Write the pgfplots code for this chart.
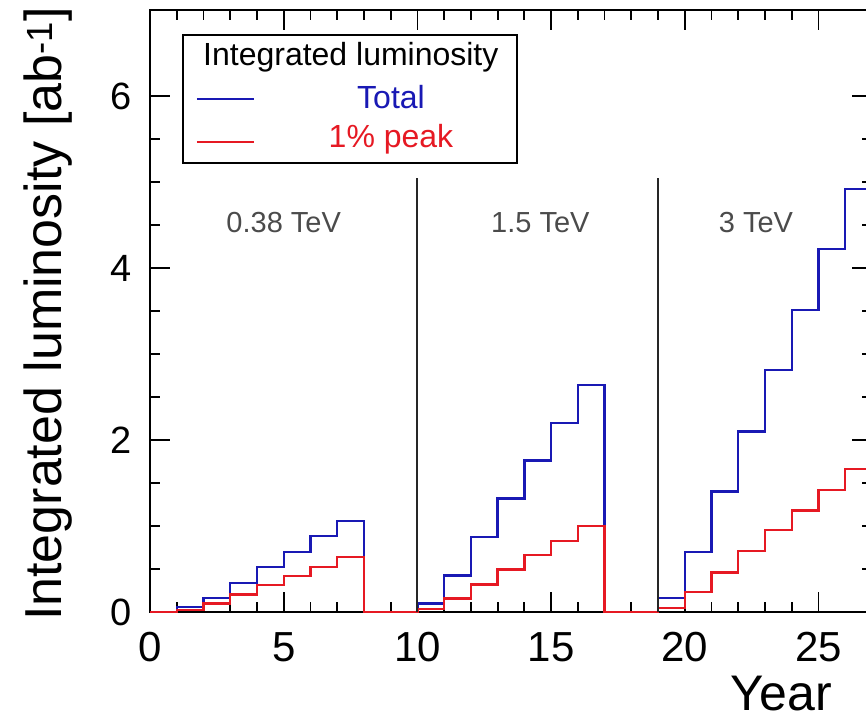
\documentclass[border=0pt]{standalone}
\usepackage{fontspec}
\setmainfont{Liberation Sans}
\usepackage{pgfplots}
\pgfplotsset{compat=1.18}
\usepackage{xcolor}

\definecolor{totblue}{RGB}{25,25,180}
\definecolor{peakred}{RGB}{230,25,35}
\definecolor{txtgray}{RGB}{75,75,75}

\begin{document}
\begin{tikzpicture}
\begin{axis}[
    name=ax,
    scale only axis,
    width=722pt, height=602pt,
    xmin=0, xmax=27, ymin=0, ymax=7,
    xtick={0,5,10,15,20,25},
    ytick={0,2,4,6},
    minor x tick num=4,
    minor y tick num=3,
    major tick length=20pt,
    minor tick length=10pt,
    tick style={black, line width=1.8pt},
    axis line style={line width=2.2pt},
    /pgf/number format/assume math mode=true,
    xticklabel style={font=\fontsize{42}{48}\selectfont, anchor=north, inner sep=0pt, yshift=-20pt},
    yticklabel style={font=\fontsize{38}{44}\selectfont, anchor=east, inner sep=0pt, xshift=-18pt},
    xlabel={Year},
    ylabel={Integrated luminosity [ab\textsuperscript{-1}]},
    xlabel style={font=\fontsize{50}{58}\selectfont, at={(axis description cs:0.9446,0)}, anchor=north east, inner sep=0pt, yshift=-64pt},
    ylabel style={font=\fontsize{52}{60}\selectfont, at={(axis description cs:-0.1219,0.495)}, anchor=base, inner sep=0pt},
    const plot,
]
% Total
\addplot[totblue, line width=2.3pt, line join=miter] coordinates {
    (0,0) (1,0.055) (2,0.166) (3,0.34) (4,0.527) (5,0.70) (6,0.88) (7,1.06)
    (8,0) (9,0)
    (10,0.10) (11,0.425) (12,0.87) (13,1.32) (14,1.76) (15,2.20) (16,2.64)
    (17,0) (18,0)
    (19,0.165) (20,0.695) (21,1.40) (22,2.10) (23,2.81) (24,3.51) (25,4.22) (26,4.92) (27,4.92)
};
% 1% peak
\addplot[peakred, line width=2.3pt, line join=miter] coordinates {
    (0,0) (1,0.02) (2,0.10) (3,0.205) (4,0.314) (5,0.42) (6,0.527) (7,0.643)
    (8,0) (9,0)
    (10,0.037) (11,0.157) (12,0.32) (13,0.494) (14,0.66) (15,0.823) (16,1.00)
    (17,0) (18,0)
    (19,0.05) (20,0.23) (21,0.46) (22,0.71) (23,0.95) (24,1.18) (25,1.42) (26,1.66) (27,1.66)
};
% stage separators
\addplot[black!85, line width=2pt, sharp plot] coordinates {(10,0) (10,5.05)};
\addplot[black!85, line width=2pt, sharp plot] coordinates {(19,0) (19,5.05)};

\node[txtgray, font=\fontsize{29}{34}\selectfont, anchor=base] at (axis cs:5,4.41) {0.38 TeV};
\node[txtgray, font=\fontsize{29}{34}\selectfont, anchor=base] at (axis cs:14.6,4.41) {1.5 TeV};
\node[txtgray, font=\fontsize{29}{34}\selectfont, anchor=base] at (axis cs:22.66,4.41) {3 TeV};

% legend
\draw[black, line width=2pt, fill=white] (axis description cs:0.0457,0.7458) rectangle (axis description cs:0.5083,0.9585);
\node[anchor=base west, inner sep=0pt, font=\fontsize{32}{38}\selectfont] at (axis description cs:0.0734,0.9086) {Integrated luminosity};
\draw[totblue, line width=2pt] (axis description cs:0.0651,0.8522) -- (axis description cs:0.1440,0.8522);
\draw[peakred, line width=2pt] (axis description cs:0.0651,0.7807) -- (axis description cs:0.1440,0.7807);
\node[anchor=base, inner sep=0pt, totblue, font=\fontsize{32}{38}\selectfont] at (axis description cs:0.3338,0.8372) {Total};
\node[anchor=base, inner sep=0pt, peakred, font=\fontsize{32}{38}\selectfont] at (axis description cs:0.3338,0.7708) {1\% peak};
\end{axis}
\pgfresetboundingbox
\path[use as bounding box] ([xshift=-150pt,yshift=-114pt]ax.south west) rectangle ([xshift=716pt,yshift=612pt]ax.south west);
\end{tikzpicture}
\end{document}
